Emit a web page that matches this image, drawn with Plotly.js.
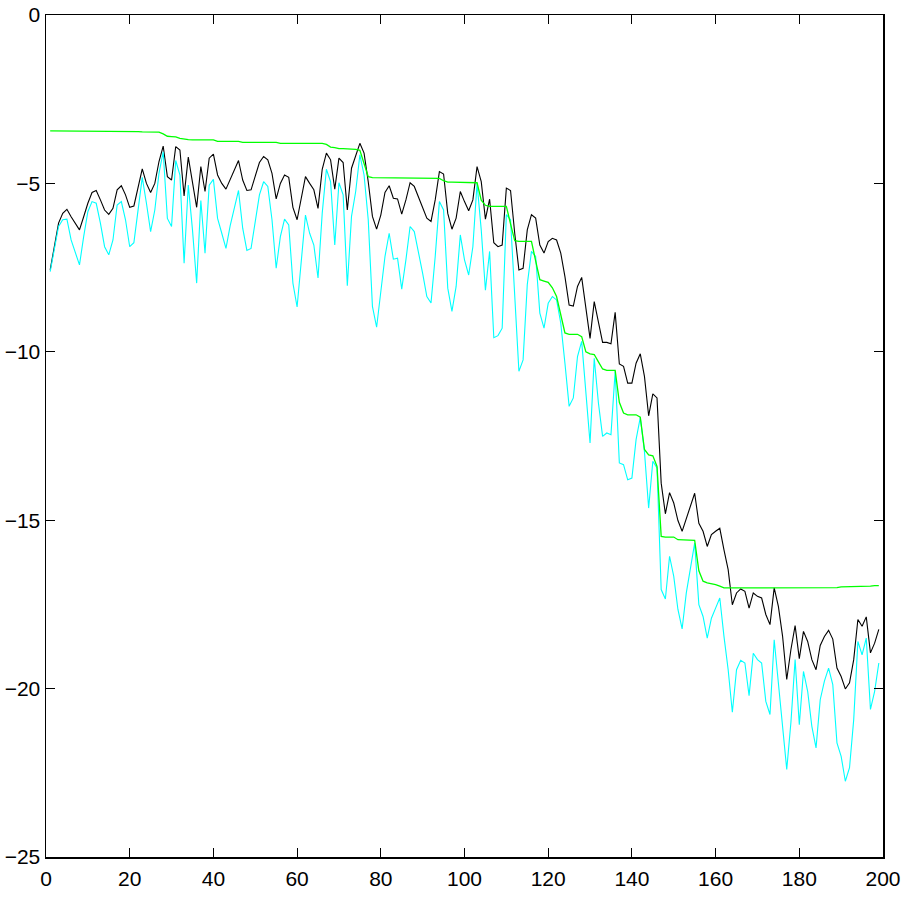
<!DOCTYPE html>
<html>
<head>
<meta charset="utf-8">
<script src="https://cdn.plot.ly/plotly-3.0.1.min.js"></script>
<style>
  html, body { margin: 0; padding: 0; background: #ffffff; }
  #chart { width: 904px; height: 897px; }
</style>
</head>
<body>
<div id="chart"></div>
<script>
// Black series (sample index 1..199)
const blackLine = [
  -7.57,-6.83,-6.18,-5.89,-5.77,-5.99,-6.18,-6.38,-5.99,-5.59,
  -5.27,-5.21,-5.49,-5.79,-5.92,-5.74,-5.19,-5.07,-5.34,-5.71,
  -5.67,-5.09,-4.57,-5.00,-5.27,-5.00,-4.35,-3.89,-4.80,-4.90,
  -3.91,-4.01,-5.37,-4.22,-4.95,-5.71,-4.50,-5.24,-4.25,-4.13,
  -4.75,-5.00,-5.17,-4.90,-4.60,-4.32,-4.90,-5.21,-5.19,-4.75,
  -4.38,-4.20,-4.30,-4.70,-5.46,-5.00,-4.75,-4.82,-5.71,-6.08,
  -5.49,-4.80,-5.00,-5.19,-5.74,-4.58,-4.10,-4.30,-5.17,-4.25,
  -4.38,-5.79,-4.55,-4.15,-3.81,-4.10,-4.95,-5.98,-6.36,-5.94,
  -5.27,-5.07,-5.44,-5.46,-5.91,-5.49,-4.98,-5.09,-5.39,-5.74,
  -6.03,-6.13,-5.49,-4.65,-4.72,-5.89,-6.36,-6.03,-5.24,-5.54,
  -5.81,-5.49,-4.50,-4.95,-6.06,-5.47,-6.76,-6.88,-6.83,-5.14,
  -5.21,-6.48,-7.57,-7.52,-6.38,-5.93,-6.03,-6.83,-7.07,-6.73,
  -6.63,-6.68,-7.07,-7.77,-8.61,-8.64,-8.06,-7.79,-8.71,-9.60,
  -8.51,-9.15,-9.72,-9.72,-9.76,-8.83,-10.36,-10.43,-10.93,-10.93,
  -10.34,-10.06,-10.73,-11.90,-11.25,-11.37,-13.90,-14.81,-14.18,-14.49,
  -15.01,-15.33,-14.94,-14.54,-14.20,-15.09,-15.33,-15.78,-15.43,-15.33,
  -15.24,-15.88,-16.47,-17.51,-17.16,-17.04,-17.11,-17.61,-17.16,-17.26,
  -17.31,-17.80,-18.10,-17.01,-17.56,-18.44,-19.73,-18.84,-18.13,-19.11,
  -18.30,-18.60,-19.14,-19.44,-18.72,-18.45,-18.27,-18.53,-19.39,-19.64,
  -20.01,-19.83,-19.14,-17.95,-18.15,-17.87,-18.94,-18.65,-18.24
];

// Cyan series
const cyanLine = [
  -7.62,-6.97,-6.28,-6.08,-6.06,-6.68,-7.07,-7.42,-6.58,-5.84,
  -5.54,-5.59,-6.18,-6.88,-7.12,-6.68,-5.64,-5.54,-6.08,-6.88,
  -6.76,-5.79,-4.82,-5.59,-6.43,-5.79,-4.70,-4.06,-6.04,-6.28,
  -4.32,-4.75,-7.37,-5.05,-6.38,-7.96,-5.51,-7.07,-5.05,-4.88,
  -6.04,-6.48,-6.93,-6.26,-5.71,-5.21,-6.33,-6.99,-6.93,-6.08,
  -5.34,-4.95,-5.09,-6.08,-7.52,-6.58,-6.06,-6.23,-7.96,-8.67,
  -7.27,-5.94,-6.48,-6.83,-7.81,-5.89,-4.58,-4.95,-6.83,-4.98,
  -5.34,-8.04,-5.98,-5.24,-4.15,-4.75,-6.08,-8.65,-9.27,-8.26,
  -7.17,-6.48,-7.25,-7.22,-8.14,-7.27,-6.28,-6.43,-7.02,-7.67,
  -8.36,-8.55,-7.17,-5.54,-5.79,-8.11,-8.80,-8.06,-6.53,-7.27,
  -7.72,-6.88,-5.00,-6.38,-8.17,-7.02,-9.58,-9.52,-9.30,-5.93,
  -6.08,-8.26,-10.58,-10.24,-8.00,-7.02,-7.17,-8.85,-9.30,-8.56,
  -8.36,-8.46,-9.15,-10.34,-11.62,-11.37,-10.14,-9.69,-11.13,-12.71,
  -10.19,-11.52,-12.51,-12.41,-12.46,-10.58,-13.30,-13.35,-13.80,-13.75,
  -12.61,-11.95,-12.96,-14.64,-13.25,-13.45,-17.06,-17.34,-16.07,-16.67,
  -17.65,-18.23,-17.16,-16.47,-15.68,-17.51,-17.86,-18.50,-17.91,-17.61,
  -17.31,-18.45,-19.44,-20.70,-19.44,-19.16,-19.24,-20.21,-18.95,-19.14,
  -19.24,-20.38,-20.77,-18.55,-19.83,-21.22,-22.40,-21.00,-19.14,-21.07,
  -19.49,-20.08,-21.12,-21.76,-20.33,-19.78,-19.39,-19.88,-21.61,-22.01,
  -22.75,-22.35,-20.92,-18.60,-19.00,-18.50,-20.62,-20.08,-19.24
];

// Green (stepped envelope) series
const greenLine = [
  -3.44,-3.44,-3.44,-3.44,-3.44,
  -3.45,-3.45,-3.45,-3.45,-3.45,-3.45,-3.45,-3.45,-3.45,
  -3.46,-3.46,-3.46,-3.46,-3.46,-3.46,-3.46,-3.46,
  -3.47,-3.47,-3.47,-3.47,
  -3.48,-3.53,-3.60,-3.61,-3.62,-3.66,-3.69,-3.70,
  -3.71,-3.71,-3.71,-3.71,-3.71,-3.71,
  -3.75,-3.75,-3.75,-3.75,-3.75,-3.75,
  -3.78,-3.78,-3.78,-3.78,-3.78,-3.78,-3.78,-3.78,-3.78,
  -3.81,-3.81,-3.81,-3.81,-3.81,-3.81,-3.81,-3.81,-3.81,-3.81,-3.81,
  -3.84,-3.92,-3.94,
  -3.97,-3.97,-3.97,-3.97,
  -3.99,-4.02,-4.45,-4.80,
  -4.83,-4.83,-4.83,-4.83,-4.83,-4.83,-4.83,-4.83,-4.84,-4.84,-4.84,-4.84,-4.84,-4.85,-4.85,-4.85,-4.85,
  -4.92,
  -4.96,-4.96,-4.96,-4.96,-4.96,-4.97,-4.97,-4.98,
  -5.50,-5.65,
  -5.68,-5.68,-5.68,-5.68,-5.68,
  -6.20,-6.70,
  -6.72,-6.72,-6.72,-6.72,
  -7.30,-7.86,-7.90,-7.94,-8.10,-8.36,-8.90,-9.44,
  -9.48,-9.48,-9.48,
  -9.55,-10.00,-10.06,-10.08,-10.30,-10.51,
  -10.55,-10.55,-10.55,
  -11.50,-11.82,
  -11.87,-11.87,-11.87,
  -11.94,-12.90,-13.06,-13.09,-13.40,
  -15.48,
  -15.50,-15.50,-15.50,
  -15.58,-15.58,-15.58,-15.58,-15.60,
  -16.50,-16.81,-16.86,-16.88,-16.91,-16.96,
  -17.01,-17.01,-17.01,-17.01,-17.01,-17.01,-17.01,-17.01,-17.01,-17.01,
  -17.01,-17.01,-17.01,-17.01,-17.01,-17.01,-17.01,-17.01,-17.01,-17.01,
  -17.00,-17.00,-17.00,-17.00,-17.00,-17.00,-17.00,-17.00,
  -16.98,-16.98,-16.98,-16.98,-16.98,
  -16.96,-16.96,-16.96,
  -16.94,-16.94
];

const xTickVals = [0, 20, 40, 60, 80, 100, 120, 140, 160, 180, 200];
const yTickVals = [0, -5, -10, -15, -20, -25];

const sampleIndex = blackLine.map((_, i) => i + 1);

const traces = [
  { x: sampleIndex, y: blackLine, type: 'scatter', mode: 'lines',
    line: { color: '#000000', width: 1.1 }, hoverinfo: 'skip' },
  { x: sampleIndex, y: cyanLine, type: 'scatter', mode: 'lines',
    line: { color: '#00FFFF', width: 1.1 }, hoverinfo: 'skip' },
  { x: sampleIndex, y: greenLine, type: 'scatter', mode: 'lines',
    line: { color: '#00FF00', width: 1.3 }, hoverinfo: 'skip' }
];

const axisCommon = {
  showgrid: false, zeroline: false, showline: true,
  linecolor: '#000000', linewidth: 1.5,
  ticks: 'inside', ticklen: 9, tickwidth: 1, tickcolor: '#000000',
  mirror: 'allticks',
  tickfont: { family: '"Liberation Sans Narrow", "Liberation Sans", Arial, sans-serif', size: 21, color: '#000000' }
};

const layout = {
  width: 904, height: 897,
  margin: { l: 46, r: 21, t: 15, b: 40, pad: 0 },
  paper_bgcolor: '#ffffff', plot_bgcolor: '#ffffff',
  showlegend: false,
  xaxis: Object.assign({}, axisCommon, {
    range: [0, 200], tickmode: 'array', tickvals: xTickVals, ticklabelstandoff: 2
  }),
  yaxis: Object.assign({}, axisCommon, {
    range: [-25, 0], tickmode: 'array', tickvals: yTickVals
  })
};

Plotly.newPlot('chart', traces, layout, { displayModeBar: false, staticPlot: true });
</script>
</body>
</html>
